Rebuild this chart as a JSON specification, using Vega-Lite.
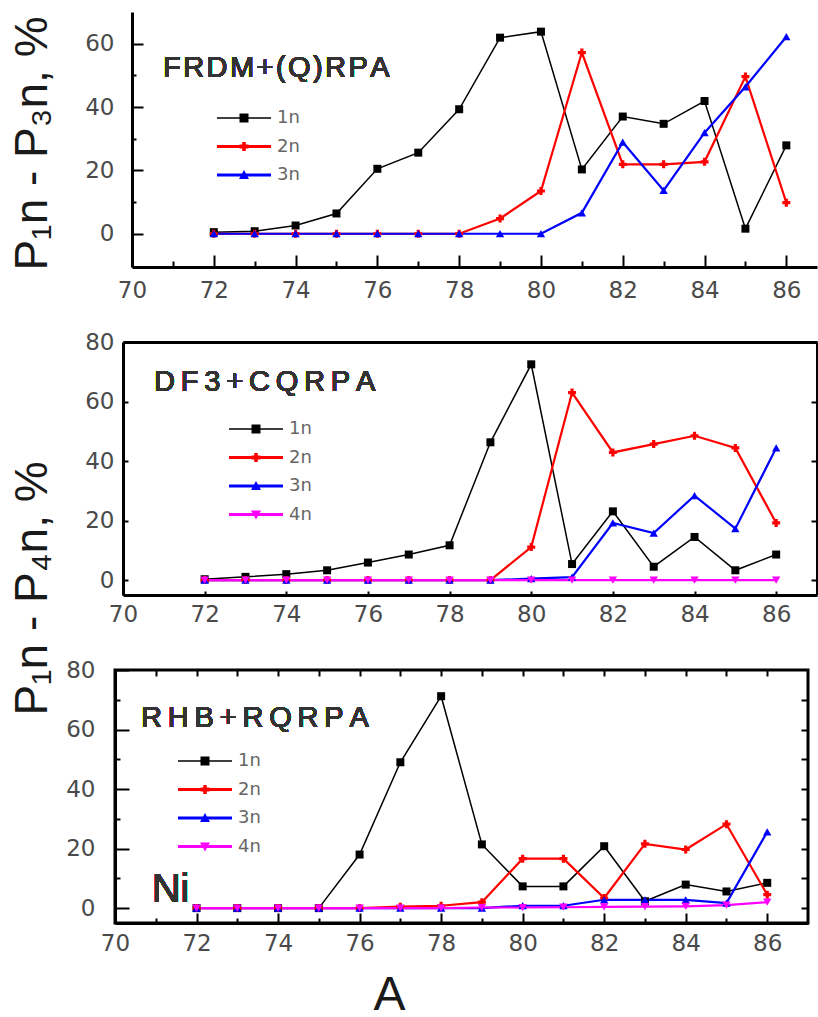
{
  "$schema": "https://vega.github.io/schema/vega-lite/v6.json",
  "padding": {"left": 8, "top": 12, "right": 0, "bottom": 6},
  "autosize": {"type": "pad"},
  "bounds": "flush",
  "spacing": 75,
  "datasets": {
    "p1": [
      {"A":72,"s":"1n","P":0.5},{"A":73,"s":"1n","P":0.8},{"A":74,"s":"1n","P":2.6},{"A":75,"s":"1n","P":6.4},{"A":76,"s":"1n","P":20.5},{"A":77,"s":"1n","P":25.6},{"A":78,"s":"1n","P":39.3},{"A":79,"s":"1n","P":61.9},{"A":80,"s":"1n","P":63.8},{"A":81,"s":"1n","P":20.3},{"A":82,"s":"1n","P":37.0},{"A":83,"s":"1n","P":34.7},{"A":84,"s":"1n","P":41.9},{"A":85,"s":"1n","P":1.6},{"A":86,"s":"1n","P":27.9},
      {"A":72,"s":"2n","P":0},{"A":73,"s":"2n","P":0},{"A":74,"s":"2n","P":0},{"A":75,"s":"2n","P":0},{"A":76,"s":"2n","P":0},{"A":77,"s":"2n","P":0},{"A":78,"s":"2n","P":0},{"A":79,"s":"2n","P":4.8},{"A":80,"s":"2n","P":13.5},{"A":81,"s":"2n","P":57.2},{"A":82,"s":"2n","P":21.9},{"A":83,"s":"2n","P":21.9},{"A":84,"s":"2n","P":22.7},{"A":85,"s":"2n","P":49.6},{"A":86,"s":"2n","P":9.8},
      {"A":72,"s":"3n","P":0},{"A":73,"s":"3n","P":0},{"A":74,"s":"3n","P":0},{"A":75,"s":"3n","P":0},{"A":76,"s":"3n","P":0},{"A":77,"s":"3n","P":0},{"A":78,"s":"3n","P":0},{"A":79,"s":"3n","P":0},{"A":80,"s":"3n","P":0},{"A":81,"s":"3n","P":6.6},{"A":82,"s":"3n","P":28.9},{"A":83,"s":"3n","P":13.7},{"A":84,"s":"3n","P":31.9},{"A":85,"s":"3n","P":46.4},{"A":86,"s":"3n","P":62.2}
    ],
    "p2": [
      {"A":72,"s":"1n","P":0.3},{"A":73,"s":"1n","P":1.1},{"A":74,"s":"1n","P":2.0},{"A":75,"s":"1n","P":3.3},{"A":76,"s":"1n","P":5.9},{"A":77,"s":"1n","P":8.6},{"A":78,"s":"1n","P":11.7},{"A":79,"s":"1n","P":46.3},{"A":80,"s":"1n","P":72.5},{"A":81,"s":"1n","P":5.4},{"A":82,"s":"1n","P":23.1},{"A":83,"s":"1n","P":4.5},{"A":84,"s":"1n","P":14.5},{"A":85,"s":"1n","P":3.3},{"A":86,"s":"1n","P":8.6},
      {"A":72,"s":"2n","P":0},{"A":73,"s":"2n","P":0},{"A":74,"s":"2n","P":0},{"A":75,"s":"2n","P":0},{"A":76,"s":"2n","P":0},{"A":77,"s":"2n","P":0},{"A":78,"s":"2n","P":0},{"A":79,"s":"2n","P":0},{"A":80,"s":"2n","P":11.1},{"A":81,"s":"2n","P":63.0},{"A":82,"s":"2n","P":42.9},{"A":83,"s":"2n","P":45.7},{"A":84,"s":"2n","P":48.5},{"A":85,"s":"2n","P":44.4},{"A":86,"s":"2n","P":19.2},
      {"A":72,"s":"3n","P":0},{"A":73,"s":"3n","P":0},{"A":74,"s":"3n","P":0},{"A":75,"s":"3n","P":0},{"A":76,"s":"3n","P":0},{"A":77,"s":"3n","P":0},{"A":78,"s":"3n","P":0},{"A":79,"s":"3n","P":0},{"A":80,"s":"3n","P":0.5},{"A":81,"s":"3n","P":1.0},{"A":82,"s":"3n","P":19.2},{"A":83,"s":"3n","P":15.8},{"A":84,"s":"3n","P":28.4},{"A":85,"s":"3n","P":17.3},{"A":86,"s":"3n","P":44.4},
      {"A":72,"s":"4n","P":0},{"A":73,"s":"4n","P":0},{"A":74,"s":"4n","P":0},{"A":75,"s":"4n","P":0},{"A":76,"s":"4n","P":0},{"A":77,"s":"4n","P":0},{"A":78,"s":"4n","P":0},{"A":79,"s":"4n","P":0},{"A":80,"s":"4n","P":0},{"A":81,"s":"4n","P":0},{"A":82,"s":"4n","P":0},{"A":83,"s":"4n","P":0},{"A":84,"s":"4n","P":0},{"A":85,"s":"4n","P":0},{"A":86,"s":"4n","P":0}
    ],
    "p3": [
      {"A":72,"s":"1n","P":0},{"A":73,"s":"1n","P":0},{"A":74,"s":"1n","P":0},{"A":75,"s":"1n","P":0},{"A":76,"s":"1n","P":18.0},{"A":77,"s":"1n","P":49.0},{"A":78,"s":"1n","P":71.2},{"A":79,"s":"1n","P":21.4},{"A":80,"s":"1n","P":7.3},{"A":81,"s":"1n","P":7.3},{"A":82,"s":"1n","P":20.8},{"A":83,"s":"1n","P":2.3},{"A":84,"s":"1n","P":7.9},{"A":85,"s":"1n","P":5.6},{"A":86,"s":"1n","P":8.5},
      {"A":72,"s":"2n","P":0},{"A":73,"s":"2n","P":0},{"A":74,"s":"2n","P":0},{"A":75,"s":"2n","P":0},{"A":76,"s":"2n","P":0},{"A":77,"s":"2n","P":0.5},{"A":78,"s":"2n","P":0.8},{"A":79,"s":"2n","P":2.0},{"A":80,"s":"2n","P":16.6},{"A":81,"s":"2n","P":16.6},{"A":82,"s":"2n","P":3.4},{"A":83,"s":"2n","P":21.6},{"A":84,"s":"2n","P":19.7},{"A":85,"s":"2n","P":28.2},{"A":86,"s":"2n","P":4.5},
      {"A":72,"s":"3n","P":0},{"A":73,"s":"3n","P":0},{"A":74,"s":"3n","P":0},{"A":75,"s":"3n","P":0},{"A":76,"s":"3n","P":0},{"A":77,"s":"3n","P":0},{"A":78,"s":"3n","P":0},{"A":79,"s":"3n","P":0},{"A":80,"s":"3n","P":0.8},{"A":81,"s":"3n","P":0.8},{"A":82,"s":"3n","P":2.8},{"A":83,"s":"3n","P":2.8},{"A":84,"s":"3n","P":2.8},{"A":85,"s":"3n","P":1.7},{"A":86,"s":"3n","P":25.6},
      {"A":72,"s":"4n","P":0},{"A":73,"s":"4n","P":0},{"A":74,"s":"4n","P":0},{"A":75,"s":"4n","P":0},{"A":76,"s":"4n","P":0},{"A":77,"s":"4n","P":0},{"A":78,"s":"4n","P":0},{"A":79,"s":"4n","P":0.2},{"A":80,"s":"4n","P":0.2},{"A":81,"s":"4n","P":0.3},{"A":82,"s":"4n","P":0.4},{"A":83,"s":"4n","P":0.5},{"A":84,"s":"4n","P":0.6},{"A":85,"s":"4n","P":1.0},{"A":86,"s":"4n","P":2.0}
    ]
  },
  "vconcat": [
    {
      "width": 702, "height": 255,
      "view": {"stroke": null},
      "data": {"name": "p1"},
      "layer": [
        {
          "mark": {"type": "line"},
          "encoding": {
            "x": {"field": "A", "type": "quantitative", "scale": {"domain": [70, 86.75], "range": [17, 702], "nice": false, "zero": false},
                  "axis": {"orient": "bottom", "values": [70,72,74,76,78,80,82,84,86], "tickSize": -12, "labelPadding": 24, "title": null}},
            "y": {"field": "P", "type": "quantitative", "scale": {"domain": [-10.5, 70], "nice": false, "zero": false},
                  "axis": {"orient": "left", "offset": -17, "values": [0,20,40,60], "tickSize": -11, "labelPadding": 29, "title": "P\u2081n - P\u2083n, %", "titleX": -86, "titleY": 131}},
            "color": {"field": "s", "type": "nominal", "scale": {"domain": ["1n","2n","3n"], "range": ["#000000","#ff0000","#0000ff"]},
                      "legend": {"orient": "none", "legendX": 120, "legendY": 97}},
            "strokeWidth": {"condition": {"test": "datum.s === '1n'", "value": 1.5}, "value": 2.2}
          }
        },
        {
          "transform": [{"filter": "false"}],
          "mark": {"type": "point", "filled": true, "opacity": 1},
          "encoding": {
            "x": {"field": "A", "type": "quantitative", "axis": {"orient": "bottom", "values": [71,73,75,77,79,81,83,85], "tickSize": -6, "labels": false, "domain": false, "title": null}},
            "y": {"field": "P", "type": "quantitative", "axis": {"orient": "left", "offset": -17, "values": [10,30,50], "tickSize": -4, "labels": false, "domain": false, "title": null}},
            "color": {"field": "s", "type": "nominal"},
            "shape": {"field": "s", "type": "nominal", "scale": {"domain": ["1n","2n","3n"], "range": [
              "M-5.4,-0.15H5.4V0.15H-5.4Z M-0.9,-0.9H0.9V0.9H-0.9Z",
              "M-5.4,-0.3H5.4V0.3H-5.4Z M-0.9,-0.4H0.9V0.4H-0.9Z M-0.35,-0.9H0.35V0.9H-0.35Z",
              "M-5.4,-0.3H5.4V0.3H-5.4Z M-1,0.8L0,-1L1,0.8Z"]}}
          }
        },
        {
          "transform": [{"filter": {"field": "s", "equal": "1n"}}],
          "mark": {"type": "point", "shape": "square", "filled": true, "size": 64, "opacity": 1},
          "encoding": {"x": {"field": "A", "type": "quantitative", "axis": null}, "y": {"field": "P", "type": "quantitative", "axis": null}, "color": {"field": "s", "type": "nominal"}}
        },
        {
          "transform": [{"filter": {"field": "s", "equal": "2n"}}],
          "mark": {"type": "point", "shape": "cross", "filled": true, "size": 64, "opacity": 1},
          "encoding": {"x": {"field": "A", "type": "quantitative", "axis": null}, "y": {"field": "P", "type": "quantitative", "axis": null}, "color": {"field": "s", "type": "nominal"}}
        },
        {
          "transform": [{"filter": {"field": "s", "equal": "3n"}}],
          "mark": {"type": "point", "shape": "triangle-up", "filled": true, "size": 70, "opacity": 1},
          "encoding": {"x": {"field": "A", "type": "quantitative", "axis": null}, "y": {"field": "P", "type": "quantitative", "axis": null}, "color": {"field": "s", "type": "nominal"}}
        },
        {
          "mark": {"type": "text", "text": "F\u200aR\u200aD\u200aM\u200a+\u200a(\u200aQ\u200a)\u200aR\u200aP\u200aA", "align": "left", "baseline": "alphabetic", "font": "Liberation Sans", "fontSize": 29, "fontWeight": "normal", "color": "#333333"},
          "encoding": {
            "x": {"datum": 70.76, "type": "quantitative", "axis": null},
            "y": {"datum": 49.6, "type": "quantitative", "axis": null}
          }
        }
      ],
      "resolve": {"axis": {"x": "independent", "y": "independent"}}
    },
    {
      "width": 702, "height": 253,
      "view": {"stroke": null},
      "data": {"name": "p2"},
      "layer": [
        {
          "mark": {"type": "line"},
          "encoding": {
            "x": {"field": "A", "type": "quantitative", "scale": {"domain": [70, 87], "range": [8, 702], "nice": false, "zero": false},
                  "axis": {"orient": "bottom", "values": [70,72,74,76,78,80,82,84,86], "tickSize": -4, "labelPadding": 12, "title": null}},
            "y": {"field": "P", "type": "quantitative", "scale": {"domain": [-5, 80], "nice": false, "zero": false},
                  "axis": {"orient": "left", "offset": -8, "values": [0,20,40,60,80], "tickSize": -5, "labelPadding": 14, "title": "P\u2081n - P\u2084n, %", "titleX": -77, "titleY": 246}},
            "color": {"field": "s", "type": "nominal", "scale": {"domain": ["1n","2n","3n","4n"], "range": ["#000000","#ff0000","#0000ff","#ff00ff"]},
                      "legend": {"orient": "none", "legendX": 132, "legendY": 78}},
            "strokeWidth": {"condition": {"test": "datum.s === '1n'", "value": 1.5}, "value": 2.2}
          }
        },
        {
          "transform": [{"filter": "false"}],
          "mark": {"type": "point", "filled": true, "opacity": 1},
          "encoding": {
            "x": {"field": "A", "type": "quantitative", "axis": {"orient": "top", "ticks": false, "labels": false, "domain": true, "title": null}},
            "y": {"field": "P", "type": "quantitative", "axis": {"orient": "right", "values": [0,20,40,60,80], "tickSize": -6, "labels": false, "domain": true, "title": null}},
            "color": {"field": "s", "type": "nominal"},
            "shape": {"field": "s", "type": "nominal", "scale": {"domain": ["1n","2n","3n","4n"], "range": [
              "M-5.4,-0.15H5.4V0.15H-5.4Z M-0.9,-0.9H0.9V0.9H-0.9Z",
              "M-5.4,-0.3H5.4V0.3H-5.4Z M-0.9,-0.4H0.9V0.4H-0.9Z M-0.35,-0.9H0.35V0.9H-0.35Z",
              "M-5.4,-0.3H5.4V0.3H-5.4Z M-1,0.8L0,-1L1,0.8Z",
              "M-5.4,-0.3H5.4V0.3H-5.4Z M1,-0.8L0,1L-1,-0.8Z"]}}
          }
        },
        {
          "transform": [{"filter": {"field": "s", "equal": "1n"}}],
          "mark": {"type": "point", "shape": "square", "filled": true, "size": 64, "opacity": 1},
          "encoding": {"x": {"field": "A", "type": "quantitative", "axis": null}, "y": {"field": "P", "type": "quantitative", "axis": null}, "color": {"field": "s", "type": "nominal"}}
        },
        {
          "transform": [{"filter": {"field": "s", "equal": "2n"}}],
          "mark": {"type": "point", "shape": "cross", "filled": true, "size": 64, "opacity": 1},
          "encoding": {"x": {"field": "A", "type": "quantitative", "axis": null}, "y": {"field": "P", "type": "quantitative", "axis": null}, "color": {"field": "s", "type": "nominal"}}
        },
        {
          "transform": [{"filter": {"field": "s", "equal": "3n"}}],
          "mark": {"type": "point", "shape": "triangle-up", "filled": true, "size": 70, "opacity": 1},
          "encoding": {"x": {"field": "A", "type": "quantitative", "axis": null}, "y": {"field": "P", "type": "quantitative", "axis": null}, "color": {"field": "s", "type": "nominal"}}
        },
        {
          "transform": [{"filter": {"field": "s", "equal": "4n"}}],
          "mark": {"type": "point", "shape": "triangle-down", "filled": true, "size": 70, "opacity": 1},
          "encoding": {"x": {"field": "A", "type": "quantitative", "axis": null}, "y": {"field": "P", "type": "quantitative", "axis": null}, "color": {"field": "s", "type": "nominal"}}
        },
        {
          "mark": {"type": "text", "text": "D\u2009F\u20093\u2009+\u2009C\u2009Q\u2009R\u2009P\u2009A", "align": "left", "baseline": "alphabetic", "font": "Liberation Sans", "fontSize": 29, "fontWeight": "normal", "color": "#333333"},
          "encoding": {
            "x": {"datum": 70.76, "type": "quantitative", "axis": null},
            "y": {"datum": 63.5, "type": "quantitative", "axis": null}
          }
        }
      ],
      "resolve": {"axis": {"x": "independent", "y": "independent"}}
    },
    {
      "width": 693, "height": 253,
      "view": {"stroke": "#000000", "strokeWidth": 3},
      "data": {"name": "p3"},
      "layer": [
        {
          "mark": {"type": "line"},
          "encoding": {
            "x": {"field": "A", "type": "quantitative", "scale": {"domain": [70, 87], "nice": false, "zero": false},
                  "axis": {"orient": "bottom", "values": [70,72,74,76,78,80,82,84,86], "tickSize": -10, "labelPadding": 19, "title": "A", "titleX": 274, "titleY": 86, "titleFontSize": 48, "titleBaseline": "alphabetic", "titleAlign": "center"}},
            "y": {"field": "P", "type": "quantitative", "scale": {"domain": [-5, 80], "nice": false, "zero": false},
                  "axis": {"orient": "left", "values": [0,20,40,60,80], "tickSize": -14, "labelPadding": 34, "title": null}},
            "color": {"field": "s", "type": "nominal", "scale": {"domain": ["1n","2n","3n","4n"], "range": ["#000000","#ff0000","#0000ff","#ff00ff"]},
                      "legend": {"orient": "none", "legendX": 81, "legendY": 82}},
            "strokeWidth": {"condition": {"test": "datum.s === '1n'", "value": 1.5}, "value": 2.2}
          }
        },
        {
          "transform": [{"filter": "false"}],
          "mark": {"type": "point", "filled": true, "opacity": 1},
          "encoding": {
            "x": {"field": "A", "type": "quantitative", "axis": {"orient": "bottom", "values": [71,73,75,77,79,81,83,85], "tickSize": -5, "labels": false, "domain": false, "title": null}},
            "y": {"field": "P", "type": "quantitative", "axis": {"orient": "left", "values": [10,30,50,70], "tickSize": -5, "labels": false, "domain": false, "title": null}},
            "color": {"field": "s", "type": "nominal"},
            "shape": {"field": "s", "type": "nominal", "scale": {"domain": ["1n","2n","3n","4n"], "range": [
              "M-5.4,-0.15H5.4V0.15H-5.4Z M-0.9,-0.9H0.9V0.9H-0.9Z",
              "M-5.4,-0.3H5.4V0.3H-5.4Z M-0.9,-0.4H0.9V0.4H-0.9Z M-0.35,-0.9H0.35V0.9H-0.35Z",
              "M-5.4,-0.3H5.4V0.3H-5.4Z M-1,0.8L0,-1L1,0.8Z",
              "M-5.4,-0.3H5.4V0.3H-5.4Z M1,-0.8L0,1L-1,-0.8Z"]}}
          }
        },
        {
          "transform": [{"filter": {"field": "s", "equal": "1n"}}],
          "mark": {"type": "point", "shape": "square", "filled": true, "size": 64, "opacity": 1},
          "encoding": {
            "x": {"field": "A", "type": "quantitative", "axis": {"orient": "top", "values": [71,72,73,74,75,76,77,78,79,80,81,82,83,84,85,86], "tickSize": -6, "labels": false, "domain": false, "title": null}},
            "y": {"field": "P", "type": "quantitative", "axis": {"orient": "right", "values": [0,10,20,30,40,50,60,70], "tickSize": -7, "labels": false, "domain": false, "title": null}},
            "color": {"field": "s", "type": "nominal"}
          }
        },
        {
          "transform": [{"filter": {"field": "s", "equal": "2n"}}],
          "mark": {"type": "point", "shape": "cross", "filled": true, "size": 64, "opacity": 1},
          "encoding": {"x": {"field": "A", "type": "quantitative", "axis": null}, "y": {"field": "P", "type": "quantitative", "axis": null}, "color": {"field": "s", "type": "nominal"}}
        },
        {
          "transform": [{"filter": {"field": "s", "equal": "3n"}}],
          "mark": {"type": "point", "shape": "triangle-up", "filled": true, "size": 70, "opacity": 1},
          "encoding": {"x": {"field": "A", "type": "quantitative", "axis": null}, "y": {"field": "P", "type": "quantitative", "axis": null}, "color": {"field": "s", "type": "nominal"}}
        },
        {
          "transform": [{"filter": {"field": "s", "equal": "4n"}}],
          "mark": {"type": "point", "shape": "triangle-down", "filled": true, "size": 70, "opacity": 1},
          "encoding": {"x": {"field": "A", "type": "quantitative", "axis": null}, "y": {"field": "P", "type": "quantitative", "axis": null}, "color": {"field": "s", "type": "nominal"}}
        },
        {
          "mark": {"type": "text", "text": "R\u2009H\u2009B\u2009+\u2009R\u2009Q\u2009R\u2009P\u2009A", "align": "left", "baseline": "alphabetic", "font": "Liberation Sans", "fontSize": 29, "fontWeight": "normal", "color": "#333333"},
          "encoding": {
            "x": {"datum": 70.64, "type": "quantitative", "axis": null},
            "y": {"datum": 61.0, "type": "quantitative", "axis": null}
          }
        },
        {
          "mark": {"type": "text", "text": "Ni", "align": "left", "baseline": "alphabetic", "font": "Liberation Sans", "fontSize": 40, "fontWeight": "normal", "color": "#333333"},
          "encoding": {
            "x": {"datum": 70.9, "type": "quantitative", "axis": null},
            "y": {"datum": 2.0, "type": "quantitative", "axis": null}
          }
        }
      ],
      "resolve": {"axis": {"x": "independent", "y": "independent"}}
    }
  ],
  "config": {
    "view": {"stroke": null},
    "axis": {
      "grid": false,
      "domainColor": "#000000",
      "domainWidth": 3,
      "tickColor": "#000000",
      "tickWidth": 2,
      "labelFont": "DejaVu Sans",
      "labelFontSize": 23,
      "labelColor": "#4a4a4a",
      "labelFlush": false,
      "labelOverlap": false,
      "labelBound": false,
      "titleFont": "Liberation Sans",
      "titleFontSize": 46,
      "titleFontWeight": "normal",
      "titleColor": "#1a1a1a",
      "titleBaseline": "alphabetic",
      "titleAlign": "center",
      "titleAngle": 270
    },
    "axisX": {"titleAngle": 0},
    "legend": {
      "title": null,
      "padding": 0,
      "offset": 0,
      "direction": "vertical",
      "labelFont": "DejaVu Sans",
      "labelFontSize": 18,
      "labelColor": "#666666",
      "symbolSize": 100,
      "labelOffset": 24,
      "rowPadding": 10.5,
      "symbolStrokeWidth": 0,
      "symbolOpacity": 1,
      "symbolLimit": 10
    }
  },
  "resolve": {"scale": {"color": "independent", "shape": "independent"}, "legend": {"color": "independent", "shape": "independent"}}
}
